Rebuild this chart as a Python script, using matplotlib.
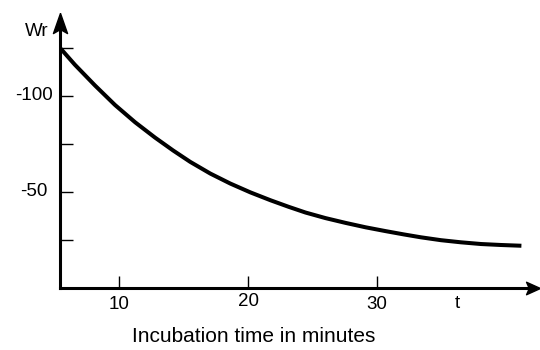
import matplotlib
matplotlib.use("Agg")
import matplotlib.pyplot as plt
from matplotlib.transforms import blended_transform_factory

plt.rcParams['font.family'] = ['Liberation Sans', 'DejaVu Sans']

# Data
t_min = [5.46, 6.55, 8.11, 9.67, 11.23, 12.78, 14.18, 15.5, 17.06, 18.61,
         20.17, 21.73, 23.13, 24.45, 26.0, 27.56, 29.12, 30.68, 32.08,
         33.4, 34.96, 36.5, 38.07, 39.6, 41.2]
wr = [-124.6, -116.3, -105.5, -95.3, -86.3, -78.3, -71.6, -65.7, -59.6, -54.4,
      -49.8, -45.7, -42.3, -39.3, -36.4, -33.9, -31.6, -29.6, -27.9,
      -26.4, -24.9, -23.8, -22.9, -22.4, -22.0]

x_ticks = [10, 20, 30]
x_tick_labels = ["10", "20", "30"]
y_ticks = [-125, -100, -75, -50, -25]
y_label_values = [-100, -50]
y_label_texts = ["-100", "-50"]

W, H = 540, 350
fig = plt.figure(figsize=(5.4, 3.5), dpi=100)
ax = fig.add_axes([60 / W, 62 / H, (533 - 60) / W, (288 - 23) / H])

ax.plot(t_min, wr, color='black', lw=2.9, solid_capstyle='butt',
        solid_joinstyle='round')

ax.set_xlim(5.4, 42.1)
ax.set_ylim(0, -138)

for s in ['top', 'right']:
    ax.spines[s].set_visible(False)
for s in ['left', 'bottom']:
    ax.spines[s].set_linewidth(2.2)

ax.set_xticks(x_ticks)
ax.set_xticklabels([])
ax.set_yticks(y_ticks)
ax.set_yticklabels([])
ax.tick_params(axis='x', direction='in', length=9, width=1.0)
ax.tick_params(axis='y', direction='in', length=9.5, width=1.0)

# Arrow heads
up_arrow = [(0, 1), (-0.7, -1), (0, -0.6), (0.7, -1), (0, 1)]
right_arrow = [(1, 0), (-1, 0.9), (-0.6, 0), (-1, -0.9), (1, 0)]
ax.plot([0], [1], marker=up_arrow, markersize=14.5, color='black',
        transform=ax.transAxes, clip_on=False)
ax.plot([1], [0], marker=right_arrow, markersize=10, color='black',
        transform=ax.transAxes, clip_on=False)

# Tick labels
tx = blended_transform_factory(ax.transData, fig.transFigure)
ty = blended_transform_factory(fig.transFigure, ax.transData)
x_label_y = [1 - 304.5 / H, 1 - 301.5 / H, 1 - 304.5 / H]
for xv, lab, yy in zip(x_ticks, x_tick_labels, x_label_y):
    ax.text(xv, yy, lab, transform=tx, ha='center', va='center', fontsize=13.5)
for yv, lab in zip(y_label_values, y_label_texts):
    ax.text(34 / W, yv, lab, transform=ty, ha='center', va='center', fontsize=13.5)

# Axis labels
ax.text(36.2, 1 - 304 / H, "t", transform=tx, ha='center', va='center', fontsize=13.5)
fig.text(37 / W, 1 - 31 / H, "Wr", ha='center', va='center', fontsize=13.5)
fig.text(254 / W, 1 - 336 / H, "Incubation time in minutes", ha='center',
         va='center', fontsize=15)

fig.savefig("out.png", dpi=100)
